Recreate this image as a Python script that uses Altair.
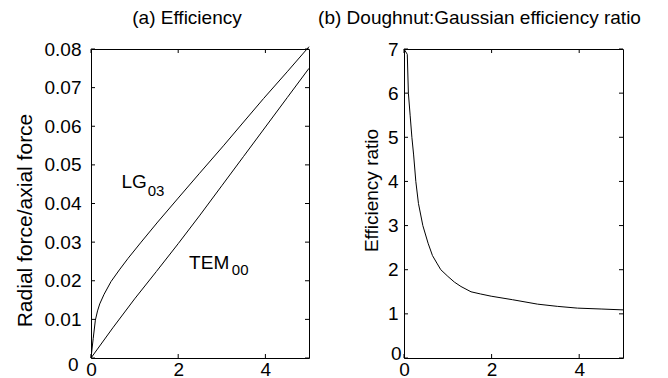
import altair as alt
import pandas as pd

# ---- data ----
lg_x = [0, 0.05, 0.1, 0.15, 0.2, 0.3, 0.46, 0.65, 0.85, 1.15, 1.53, 2.0, 2.48, 3.05, 3.5, 3.96, 4.5, 5.0]
lg_y = [0, 0.005, 0.0098, 0.0122, 0.014, 0.0165, 0.0198, 0.0228, 0.0258, 0.0300, 0.0352, 0.0414, 0.0477, 0.0551, 0.0611, 0.0672, 0.0741, 0.0806]
tem_x = [0, 0.5, 1.0, 1.5, 2.0, 2.5, 3.0, 3.5, 4.0, 4.5, 5.0]
tem_y = [0, 0.0078, 0.0153, 0.0224, 0.0296, 0.0370, 0.0446, 0.0522, 0.0598, 0.0674, 0.0750]
ratio_x = [0, 0.075, 0.1, 0.14, 0.18, 0.22, 0.27, 0.33, 0.43, 0.55, 0.65, 0.75, 0.84, 1.0, 1.15, 1.3, 1.53, 1.75, 1.99, 2.48, 3.05, 3.5, 3.96, 4.5, 5.0]
ratio_y = [7.0, 6.88, 6.0, 5.5, 5.0, 4.6, 4.0, 3.5, 3.0, 2.6, 2.32, 2.15, 2.0, 1.85, 1.72, 1.62, 1.5, 1.45, 1.4, 1.32, 1.22, 1.17, 1.13, 1.11, 1.09]

left_yticks = [0, 0.01, 0.02, 0.03, 0.04, 0.05, 0.06, 0.07, 0.08]
right_yticks = [0, 1, 2, 3, 4, 5, 6, 7]
xticks = [0, 2, 4]

label_main = ["LG", "TEM"]
label_main_x = [0.70, 2.25]
label_main_y = [0.044, 0.0231]
label_sub = ["03", "00"]
label_sub_x = [1.30, 3.23]
label_sub_y = [0.042, 0.0214]

title_a = "(a) Efficiency"
title_b = "(b) Doughnut:Gaussian efficiency ratio"
ytitle_a = "Radial force/axial force"
ytitle_b = "Efficiency ratio"

FONT = "Liberation Sans"
W1, W2, H = 218, 219, 309
TICK = 4

eff = pd.DataFrame({
    "x": lg_x + tem_x,
    "y": lg_y + tem_y,
    "series": ["LG03"] * len(lg_x) + ["TEM00"] * len(tem_x),
})
ratio = pd.DataFrame({"x": ratio_x, "y": ratio_y, "series": ["ratio"] * len(ratio_x)})
main_lab = pd.DataFrame({"x": label_main_x, "y": label_main_y, "t": label_main})
sub_lab = pd.DataFrame({"x": label_sub_x, "y": label_sub_y, "t": label_sub})


def panel(df, ydom, yticks, width, ytitle, title_text, title_dx, title_x, title_y,
          title_size, yfmt, lab_pad, zero_off, zero_pad, extra_fn=None):
    xs = alt.Scale(domain=[0, 5], nice=False, zero=False)
    ys = alt.Scale(domain=ydom, nice=False, zero=False)
    xax = alt.Axis(values=xticks, title=None, labelPadding=2, format="d",
                   labelOverlap=False, labelFlush=False)
    yax = alt.Axis(values=yticks, title=ytitle, labelExpr=yfmt,
                   labelPadding={"condition": {"test": "datum.value == 0", "value": zero_pad},
                                 "value": lab_pad},
                   labelOffset={"condition": {"test": "datum.value == 0", "value": zero_off},
                                "value": 0},
                   labelOverlap=False, labelFlush=False,
                   titleX=title_x, titleY=title_y,
                   titleAlign="center", titleBaseline="middle",
                   titleFontSize=title_size, titleFontWeight="normal")
    X = lambda: alt.X("x:Q", scale=xs, axis=xax)
    Y = lambda: alt.Y("y:Q", scale=ys, axis=yax)
    line = alt.Chart(df).mark_line(color="black", strokeWidth=1).encode(
        x=X(), y=Y(), detail="series:N")
    yt = pd.DataFrame({"y": yticks})
    xt = pd.DataFrame({"x": xticks})
    yl = alt.Chart(yt).mark_rule(color="black", strokeWidth=1).encode(
        y=Y(), x=alt.value(0), x2=alt.value(TICK))
    yr = alt.Chart(yt).mark_rule(color="black", strokeWidth=1).encode(
        y=Y(), x=alt.value(width - TICK), x2=alt.value(width))
    xb = alt.Chart(xt).mark_rule(color="black", strokeWidth=1).encode(
        x=X(), y=alt.value(H - TICK), y2=alt.value(H))
    xtp = alt.Chart(xt).mark_rule(color="black", strokeWidth=1).encode(
        x=X(), y=alt.value(0), y2=alt.value(TICK))
    layers = [line, yl, yr, xb, xtp]
    if extra_fn is not None:
        layers += extra_fn(X, Y)
    return alt.layer(*layers).properties(
        width=width, height=H,
        title=alt.TitleParams(title_text, dx=title_dx, offset=-3, baseline="alphabetic",
                              fontSize=19, font=FONT, fontWeight="normal", color="black"),
    )


def labels(X, Y):
    txt_main = alt.Chart(main_lab).mark_text(align="left", baseline="alphabetic", fontSize=19,
                                              font=FONT, color="black").encode(
        x=X(), y=Y(), text="t:N")
    txt_sub = alt.Chart(sub_lab).mark_text(align="left", baseline="alphabetic", fontSize=15,
                                            font=FONT, color="black").encode(
        x=X(), y=Y(), text="t:N")
    return [txt_main, txt_sub]


left = panel(eff, [0, 0.08], left_yticks, W1, ytitle_a, title_a, -13, -66, 171, 21,
             "datum.value == 0 ? '0' : format(datum.value, '.2f')", 10, 6, 13,
             extra_fn=labels)
right = panel(ratio, [0, 7], right_yticks, W2, ytitle_b, title_b, -34, -33, 141, 19,
              "format(datum.value, 'd')", 6, -5, 3)

chart = alt.hconcat(left, right, spacing=95, bounds="flush").properties(
    padding={"left": 13, "top": 8, "right": 5, "bottom": 5},
    background="white",
).configure_view(stroke="black", strokeWidth=1).configure_axis(
    domain=False, ticks=False, grid=False,
    labelFont=FONT, labelFontSize=19, labelColor="black",
    titleFont=FONT, titleColor="black",
)

chart.save("out.html", embed_options={"renderer": "svg", "actions": False})
